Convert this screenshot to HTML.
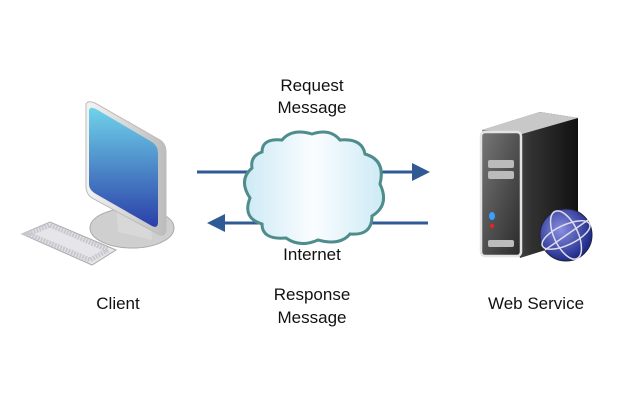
<!DOCTYPE html>
<html><head><style>
body{margin:0;background:#fff;}
svg text{font-family:"Liberation Sans",Arial,sans-serif;font-size:17px;fill:#111;text-anchor:middle;}
</style></head><body>
<svg width="640" height="400" viewBox="0 0 640 400" xmlns="http://www.w3.org/2000/svg">
<defs>
<linearGradient id="scr" x1="0" y1="0" x2="0" y2="1"><stop offset="0" stop-color="#6fd3ea"/><stop offset="1" stop-color="#2b3fa8"/></linearGradient>
<linearGradient id="bez" x1="0" y1="0" x2="1" y2="0"><stop offset="0" stop-color="#f4f4f4"/><stop offset="1" stop-color="#bcbcbc"/></linearGradient>
<linearGradient id="cl" x1="0" y1="0" x2="1" y2="0"><stop offset="0" stop-color="#cdeaf5"/><stop offset="0.5" stop-color="#fafdff"/><stop offset="1" stop-color="#cdeaf5"/></linearGradient>
<linearGradient id="srv" x1="0" y1="0" x2="1" y2="0"><stop offset="0" stop-color="#777"/><stop offset="0.5" stop-color="#333"/><stop offset="1" stop-color="#111"/></linearGradient>
<linearGradient id="srvf" x1="0" y1="0" x2="1" y2="1"><stop offset="0" stop-color="#777"/><stop offset="1" stop-color="#2a2a2a"/></linearGradient>
<radialGradient id="gl" cx="0.4" cy="0.4" r="0.6"><stop offset="0" stop-color="#8a8fe0"/><stop offset="1" stop-color="#1f2b8a"/></radialGradient>
</defs>
<!-- monitor -->
<ellipse cx="132" cy="228" rx="42" ry="20" fill="#cfcfcf" stroke="#aaa"/>
<path d="M116 200 L150 215 L152 240 L118 232 Z" fill="#d8d8d8"/>
<path d="M86 104 Q88 100 95 103 L160 140 Q166 144 166 152 L166 228 Q166 238 158 234 L92 198 Q86 194 86 186 Z" fill="url(#bez)" stroke="#bbb"/>
<path d="M89 110 Q90 106 96 109 L152 142 Q158 146 158 153 L158 222 Q158 229 152 226 L96 194 Q89 190 89 184 Z" fill="url(#scr)"/>
<!-- keyboard -->
<path d="M22 234 L50 222 L116 250 L92 265 Z" fill="#e6e6ea" stroke="#aaa"/>
<path d="M28 234 L50 225 L108 250 L90 260 Z" fill="none" stroke="#c8c8d0" stroke-dasharray="2 1" stroke-width="5"/>
<!-- arrows -->
<line x1="197" y1="172" x2="415" y2="172" stroke="#2f5a94" stroke-width="3"/>
<polygon points="412,163 430,172 412,181" fill="#2f5a94"/>
<line x1="222" y1="223" x2="428" y2="223" stroke="#2f5a94" stroke-width="3"/>
<polygon points="225,214 207,223 225,232" fill="#2f5a94"/>
<!-- cloud -->
<path d="M262 152 Q262 138 282 140 Q292 128 312 134 Q330 128 340 140 Q362 138 365 154 Q386 160 380 184 Q390 205 372 216 Q372 236 350 234 Q340 246 318 240 Q300 248 286 238 Q262 240 262 224 Q242 218 250 198 Q238 180 252 168 Q250 156 262 152 Z" fill="url(#cl)" stroke="#4f8c8c" stroke-width="3"/>
<!-- server -->
<path d="M482 130 L540 112 L578 118 L578 240 L520 258 Z" fill="url(#srv)"/>
<path d="M482 130 L540 112 L578 118 L522 134 Z" fill="#c8c8c8"/>
<rect x="481" y="132" width="40" height="124" rx="4" fill="url(#srvf)" stroke="#e4e4e4" stroke-width="2.5"/>
<rect x="488" y="160" width="26" height="8" rx="2" fill="#bbb"/>
<rect x="488" y="171" width="26" height="8" rx="2" fill="#bbb"/>
<rect x="488" y="240" width="26" height="7" rx="2" fill="#bbb"/>
<ellipse cx="492" cy="216" rx="3" ry="4" fill="#3aa0ff"/>
<circle cx="492" cy="226" r="2" fill="#e22"/>
<circle cx="566" cy="235" r="26" fill="url(#gl)" stroke="#223" stroke-width="1"/>
<g fill="none" stroke="#dde" stroke-width="1.5">
<ellipse cx="566" cy="235" rx="12" ry="26" transform="rotate(-25 566 235)"/>
<ellipse cx="566" cy="235" rx="26" ry="10" transform="rotate(-25 566 235)"/>
<line x1="545" y1="250" x2="588" y2="220"/>
</g>
<!-- labels -->
<text x="312" y="91">Request</text>
<text x="312" y="113">Message</text>
<text x="312" y="260">Internet</text>
<text x="312" y="300">Response</text>
<text x="312" y="323">Message</text>
<text x="118" y="309">Client</text>
<text x="536" y="309">Web Service</text>
</svg>
</body></html>
